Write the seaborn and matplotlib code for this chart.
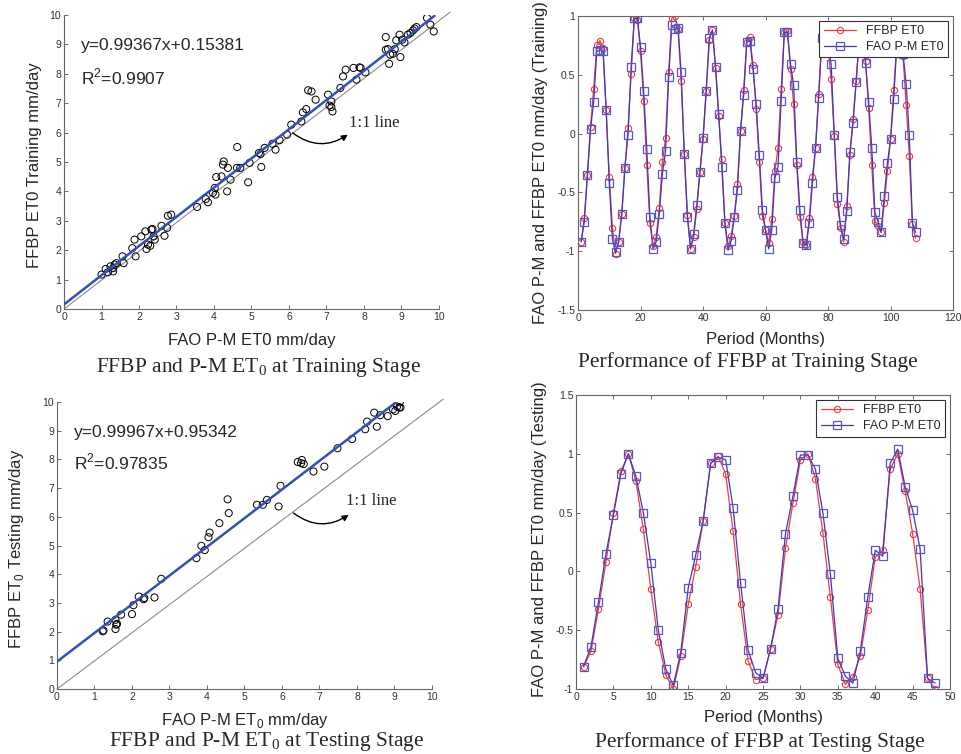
import numpy as np
import matplotlib
matplotlib.use("Agg")
import matplotlib.pyplot as plt
import seaborn as sns
from matplotlib.ticker import FuncFormatter, MultipleLocator

# ---- data ----
# training scatter (FAO P-M vs FFBP)
train_fao = [1.00, 1.11, 1.17, 1.24, 1.31, 1.35, 1.40, 1.31, 1.56, 1.59, 1.82, 1.88, 1.91,
             2.06, 2.17, 2.20, 2.24, 2.30, 2.33, 2.36, 2.39, 2.42, 2.60, 2.68, 2.75, 2.77,
             2.86, 3.55, 3.78, 3.84, 3.97, 4.02, 4.04, 4.06, 4.20, 4.26, 4.24, 4.37, 4.35,
             4.44, 4.62, 4.61, 4.70, 4.91, 4.95, 5.20, 5.24, 5.26, 5.35, 5.56, 5.64, 5.75,
             5.95, 6.06, 6.33, 6.37, 6.46, 6.51, 6.60, 6.71, 7.04, 7.08, 7.13, 7.16, 7.13,
             7.37, 7.44, 7.51, 7.72, 7.80, 7.88, 7.91, 8.04, 8.58, 8.58, 8.64, 8.67, 8.70,
             8.77, 8.82, 8.86, 8.95, 8.97, 9.02, 9.08, 9.17, 9.24, 9.31, 9.35, 9.40, 9.68,
             9.77, 9.86]
train_ffbp = [1.17, 1.36, 1.25, 1.45, 1.39, 1.51, 1.56, 1.28, 1.79, 1.56, 2.07, 2.36, 1.79,
              2.47, 2.64, 2.04, 2.19, 2.15, 2.70, 2.72, 2.47, 2.36, 2.83, 2.49, 2.76, 3.17,
              3.21, 3.47, 3.74, 3.63, 3.95, 4.12, 3.89, 4.49, 4.51, 5.02, 4.91, 4.80, 4.00,
              4.40, 5.51, 4.80, 4.80, 4.31, 4.97, 5.31, 5.27, 4.83, 5.48, 5.62, 5.42, 5.74,
              5.93, 6.27, 6.38, 6.69, 6.80, 7.44, 7.40, 7.12, 7.29, 6.92, 6.87, 6.72, 7.06,
              7.52, 7.91, 8.14, 8.20, 7.80, 8.22, 8.20, 8.05, 9.25, 8.82, 8.84, 8.34, 8.65,
              8.68, 8.84, 9.14, 9.33, 8.57, 9.16, 9.07, 9.33, 9.39, 9.48, 9.54, 9.59, 9.90,
              9.67, 9.44]
train_slope, train_icpt = 0.99367, 0.15381
train_fit_x = [0.0, 9.88]

# testing scatter
test_fao = [1.22, 1.24, 1.35, 1.56, 1.58, 1.56, 1.60, 1.71, 2.00, 2.04, 2.18, 2.31, 2.33,
            2.60, 2.78, 3.72, 3.85, 3.94, 4.04, 4.07, 4.33, 4.55, 4.58, 5.33, 5.49, 5.60,
            5.91, 5.96, 6.42, 6.51, 6.53, 6.58, 6.84, 7.13, 7.48, 7.87, 8.22, 8.27, 8.46,
            8.53, 8.62, 8.82, 8.96, 9.02, 9.07, 9.13, 9.14, 9.16]
test_ffbp = [2.01, 2.04, 2.35, 2.41, 2.24, 2.09, 2.27, 2.59, 2.61, 2.92, 3.22, 3.13, 3.17,
             3.19, 3.84, 4.56, 4.99, 4.84, 5.29, 5.45, 5.78, 6.61, 6.13, 6.42, 6.42, 6.59,
             6.36, 7.08, 7.91, 7.87, 7.98, 7.84, 7.58, 7.75, 8.39, 8.71, 9.05, 9.32, 9.63,
             9.14, 9.54, 9.51, 9.74, 9.69, 9.84, 9.81, 9.99, 9.81]
test_slope, test_icpt = 0.99967, 0.95342
test_fit_x = [0.0, 9.05]

# training time series (normalised), months 1..108
train_months = list(range(1, 109))
train_fao_ts = [-0.92, -0.75, -0.35, 0.04, 0.27, 0.70, 0.71, 0.70, 0.20, -0.42, -0.90, -1.01,
                -0.92, -0.68, -0.29, -0.01, 0.57, 0.98, 0.98, 0.74, 0.36, -0.13, -0.71, -0.98,
                -0.92, -0.68, -0.34, -0.15, 0.48, 0.92, 0.89, 0.90, 0.52, -0.17, -0.71, -0.98,
                -0.85, -0.61, -0.33, -0.04, 0.36, 0.81, 0.88, 0.57, 0.17, -0.28, -0.76, -0.99,
                -0.91, -0.71, -0.48, 0.02, 0.33, 0.78, 0.79, 0.55, 0.25, -0.18, -0.65, -0.82,
                -0.98, -0.82, -0.38, -0.28, 0.28, 0.86, 0.86, 0.59, 0.41, -0.24, -0.65, -0.93,
                -0.95, -0.76, -0.42, -0.12, 0.30, 0.81, 0.88, 0.74, 0.59, -0.01, -0.54, -0.78,
                -0.90, -0.66, -0.16, 0.09, 0.44, 0.82, 0.86, 0.60, 0.27, -0.12, -0.67, -0.75,
                -0.84, -0.53, -0.25, -0.05, 0.29, 0.75, 0.85, 0.68, 0.42, -0.01, -0.76, -0.84]
train_ffbp_ts = [-0.92, -0.72, -0.35, 0.06, 0.38, 0.75, 0.79, 0.73, 0.20, -0.37, -0.80, -1.02,
                 -0.92, -0.68, -0.29, 0.05, 0.51, 0.98, 0.97, 0.70, 0.28, -0.27, -0.76, -0.96,
                 -0.88, -0.63, -0.24, -0.04, 0.52, 0.98, 1.00, 0.89, 0.45, -0.17, -0.69, -0.98,
                 -0.88, -0.64, -0.33, -0.05, 0.36, 0.80, 0.88, 0.56, 0.15, -0.22, -0.76, -0.96,
                 -0.87, -0.70, -0.43, 0.02, 0.37, 0.78, 0.82, 0.58, 0.21, -0.24, -0.70, -0.82,
                 -0.93, -0.73, -0.32, -0.12, 0.38, 0.86, 0.87, 0.55, 0.25, -0.27, -0.71, -0.92,
                 -0.95, -0.72, -0.37, -0.12, 0.34, 0.80, 0.88, 0.73, 0.46, -0.02, -0.60, -0.80,
                 -0.92, -0.62, -0.18, 0.12, 0.45, 0.80, 0.87, 0.62, 0.22, -0.27, -0.74, -0.79,
                 -0.84, -0.59, -0.32, -0.05, 0.37, 0.76, 0.86, 0.66, 0.24, -0.19, -0.77, -0.89]

# testing time series, months 1..48
test_months = list(range(1, 49))
test_fao_ts = [-0.81, -0.64, -0.26, 0.15, 0.48, 0.83, 1.00, 0.81, 0.50, 0.07, -0.50, -0.83,
               -0.97, -0.69, -0.14, 0.14, 0.43, 0.92, 0.97, 0.95, 0.54, -0.10, -0.67, -0.86,
               -0.91, -0.66, -0.32, 0.32, 0.64, 0.99, 0.99, 0.87, 0.50, -0.02, -0.74, -0.89,
               -0.95, -0.68, -0.22, 0.18, 0.13, 0.92, 1.04, 0.72, 0.52, 0.19, -0.91, -0.95]
test_ffbp_ts = [-0.81, -0.68, -0.32, 0.08, 0.50, 0.85, 1.00, 0.77, 0.36, -0.15, -0.60, -0.88,
                -1.00, -0.72, -0.28, 0.04, 0.43, 0.92, 0.98, 0.83, 0.34, -0.28, -0.76, -0.92,
                -0.91, -0.66, -0.37, 0.20, 0.58, 0.95, 1.00, 0.79, 0.33, -0.22, -0.79, -0.96,
                -0.90, -0.72, -0.33, 0.12, 0.18, 0.87, 1.00, 0.68, 0.32, -0.15, -0.91, -1.00]

# ---- style ----
sns.set_style("ticks")
plt.rcParams["font.family"] = ["Liberation Sans", "DejaVu Sans"]
plt.rcParams["mathtext.fontset"] = "custom"
plt.rcParams["mathtext.rm"] = "Liberation Serif"
plt.rcParams["mathtext.sf"] = "Liberation Sans"
plt.rcParams["axes.edgecolor"] = "#666666"
plt.rcParams["axes.linewidth"] = 0.8

RED = "#f03c3c"
BLUE = "#3a3ac0"
FIT = "#3450b4"
SERIF = ["Liberation Serif", "DejaVu Serif"]

fig = plt.figure(figsize=(9.61, 7.54), dpi=100)

ax_tl = fig.add_axes([0.0666, 0.5902, 0.3902, 0.3899])
ax_tr = fig.add_axes([0.6015, 0.5889, 0.3902, 0.3899])
ax_bl = fig.add_axes([0.0593, 0.0862, 0.3902, 0.3806])
ax_bt = fig.add_axes([0.5994, 0.0862, 0.3892, 0.3899])

fmt = FuncFormatter(lambda v, p: "%g" % v)


def style_axes(ax, box):
    ax.tick_params(direction="in", length=3, width=0.6, color="#555555",
                   labelcolor="#333333", labelsize=7.5, pad=2,
                   top=box, right=box)
    ax.xaxis.set_major_formatter(fmt)
    ax.yaxis.set_major_formatter(fmt)
    if not box:
        sns.despine(ax=ax)


def scatter_panel(ax, fao, ffbp, slope, icpt, fit_x, ylab, xlab, eq, r2, arrow):
    ax.plot([0, 10.3], [0, 10.1], color="#8c8c8c", lw=0.8, clip_on=False, zorder=1)
    sns.scatterplot(x=fao, y=ffbp, ax=ax, marker="o", s=26, facecolor="none",
                    edgecolor="black", linewidth=0.7, zorder=2)
    fit_y = [slope * v + icpt for v in fit_x]
    ax.plot(fit_x, fit_y, color=FIT, lw=1.8, zorder=3)
    ax.set_xlim(0, 10)
    ax.set_ylim(0, 10)
    ax.xaxis.set_major_locator(MultipleLocator(1))
    ax.yaxis.set_major_locator(MultipleLocator(1))
    style_axes(ax, False)
    ax.set_xlabel(xlab, fontsize=12)
    ax.set_ylabel(ylab, fontsize=12)
    ax.text(0.46, 8.95, eq, fontsize=12.5, va="center")
    ax.text(0.46, 7.9, r2, fontsize=12.5, va="center")
    (x0, y0), (x1, y1), (tx, ty) = arrow
    ax.annotate("", xy=(x1, y1), xytext=(x0, y0),
                arrowprops=dict(arrowstyle="-|>", connectionstyle="arc3,rad=0.35",
                                color="black", lw=1.0, mutation_scale=9,
                                shrinkA=0, shrinkB=0))
    ax.text(tx, ty, "1:1 line", fontsize=12, family=SERIF, va="center")


def series_panel(ax, months, ffbp, fao, ylab, ylo, xmax, xstep):
    sns.lineplot(x=months, y=ffbp, ax=ax, color=RED, lw=0.9, marker="o",
                 markersize=4.5, markerfacecolor="none", markeredgecolor=RED,
                 markeredgewidth=0.8, label="FFBP ET0")
    sns.lineplot(x=months, y=fao, ax=ax, color=BLUE, lw=0.9, marker="s",
                 markersize=5.5, markerfacecolor="none", markeredgecolor="#5555cc",
                 markeredgewidth=0.9, label="FAO P-M ET0")
    ax.set_xlim(0, xmax)
    ax.set_ylim(ylo[0], ylo[1])
    ax.xaxis.set_major_locator(MultipleLocator(xstep))
    ax.yaxis.set_major_locator(MultipleLocator(0.5))
    style_axes(ax, True)
    ax.set_xlabel("Period (Months)", fontsize=12)
    ax.set_ylabel(ylab, fontsize=12)
    leg = ax.legend(loc="upper right", fontsize=9, frameon=True, fancybox=False,
                    framealpha=1, edgecolor="#333333", borderaxespad=0.4,
                    handlelength=2.6, borderpad=0.35, labelspacing=0.3)
    leg.get_frame().set_linewidth(0.8)


scatter_panel(ax_tl, train_fao, train_ffbp, train_slope, train_icpt, train_fit_x,
              "FFBP ET0 Training mm/day", "FAO P-M ET0 mm/day",
              "y=0.99367x+0.15381", r"R$^\mathsf{2}$=0.9907",
              ((6.1, 5.99), (7.57, 5.93), (7.6, 6.33)))
scatter_panel(ax_bl, test_fao, test_ffbp, test_slope, test_icpt, test_fit_x,
              r"FFBP ET$_\mathsf{0}$ Testing mm/day", r"FAO P-M ET$_\mathsf{0}$ mm/day",
              "y=0.99967x+0.95342", r"R$^\mathsf{2}$=0.97835",
              ((6.31, 6.13), (7.78, 6.07), (7.7, 6.55)))
series_panel(ax_tr, train_months, train_ffbp_ts, train_fao_ts,
             "FAO P-M and FFBP ET0 mm/day (Training)", (-1.5, 1.0), 120, 20)
series_panel(ax_bt, test_months, test_ffbp_ts, test_fao_ts,
             "FAO P-M and FFBP ET0 mm/day (Testing)", (-1.0, 1.5), 50, 5)

# label positions (x label: top edge, y label: right edge)
ax_tl.xaxis.set_label_coords(0.5, -0.082)
ax_tl.yaxis.set_label_coords(-0.059, 0.49)
ax_tr.xaxis.set_label_coords(0.5, -0.075)
ax_tr.yaxis.set_label_coords(-0.080, 0.5)
ax_bl.xaxis.set_label_coords(0.5, -0.078)
ax_bl.yaxis.set_label_coords(-0.082, 0.49)
ax_bt.xaxis.set_label_coords(0.5, -0.071)
ax_bt.yaxis.set_label_coords(-0.078, 0.51)

# captions under each panel
fig.text(0.2695, 0.512, r"FFBP and P-M ET$_\mathrm{0}$ at Training Stage",
         family=SERIF, fontsize=15.5, ha="center", va="center")
fig.text(0.778, 0.520, "Performance of FFBP at Training Stage",
         family=SERIF, fontsize=15.5, ha="center", va="center")
fig.text(0.278, 0.016, r"FFBP and P-M ET$_\mathrm{0}$ at Testing Stage",
         family=SERIF, fontsize=15.5, ha="center", va="center")
fig.text(0.791, 0.016, "Performance of FFBP at Testing Stage",
         family=SERIF, fontsize=15.5, ha="center", va="center")

fig.savefig("out.png", dpi=100)
